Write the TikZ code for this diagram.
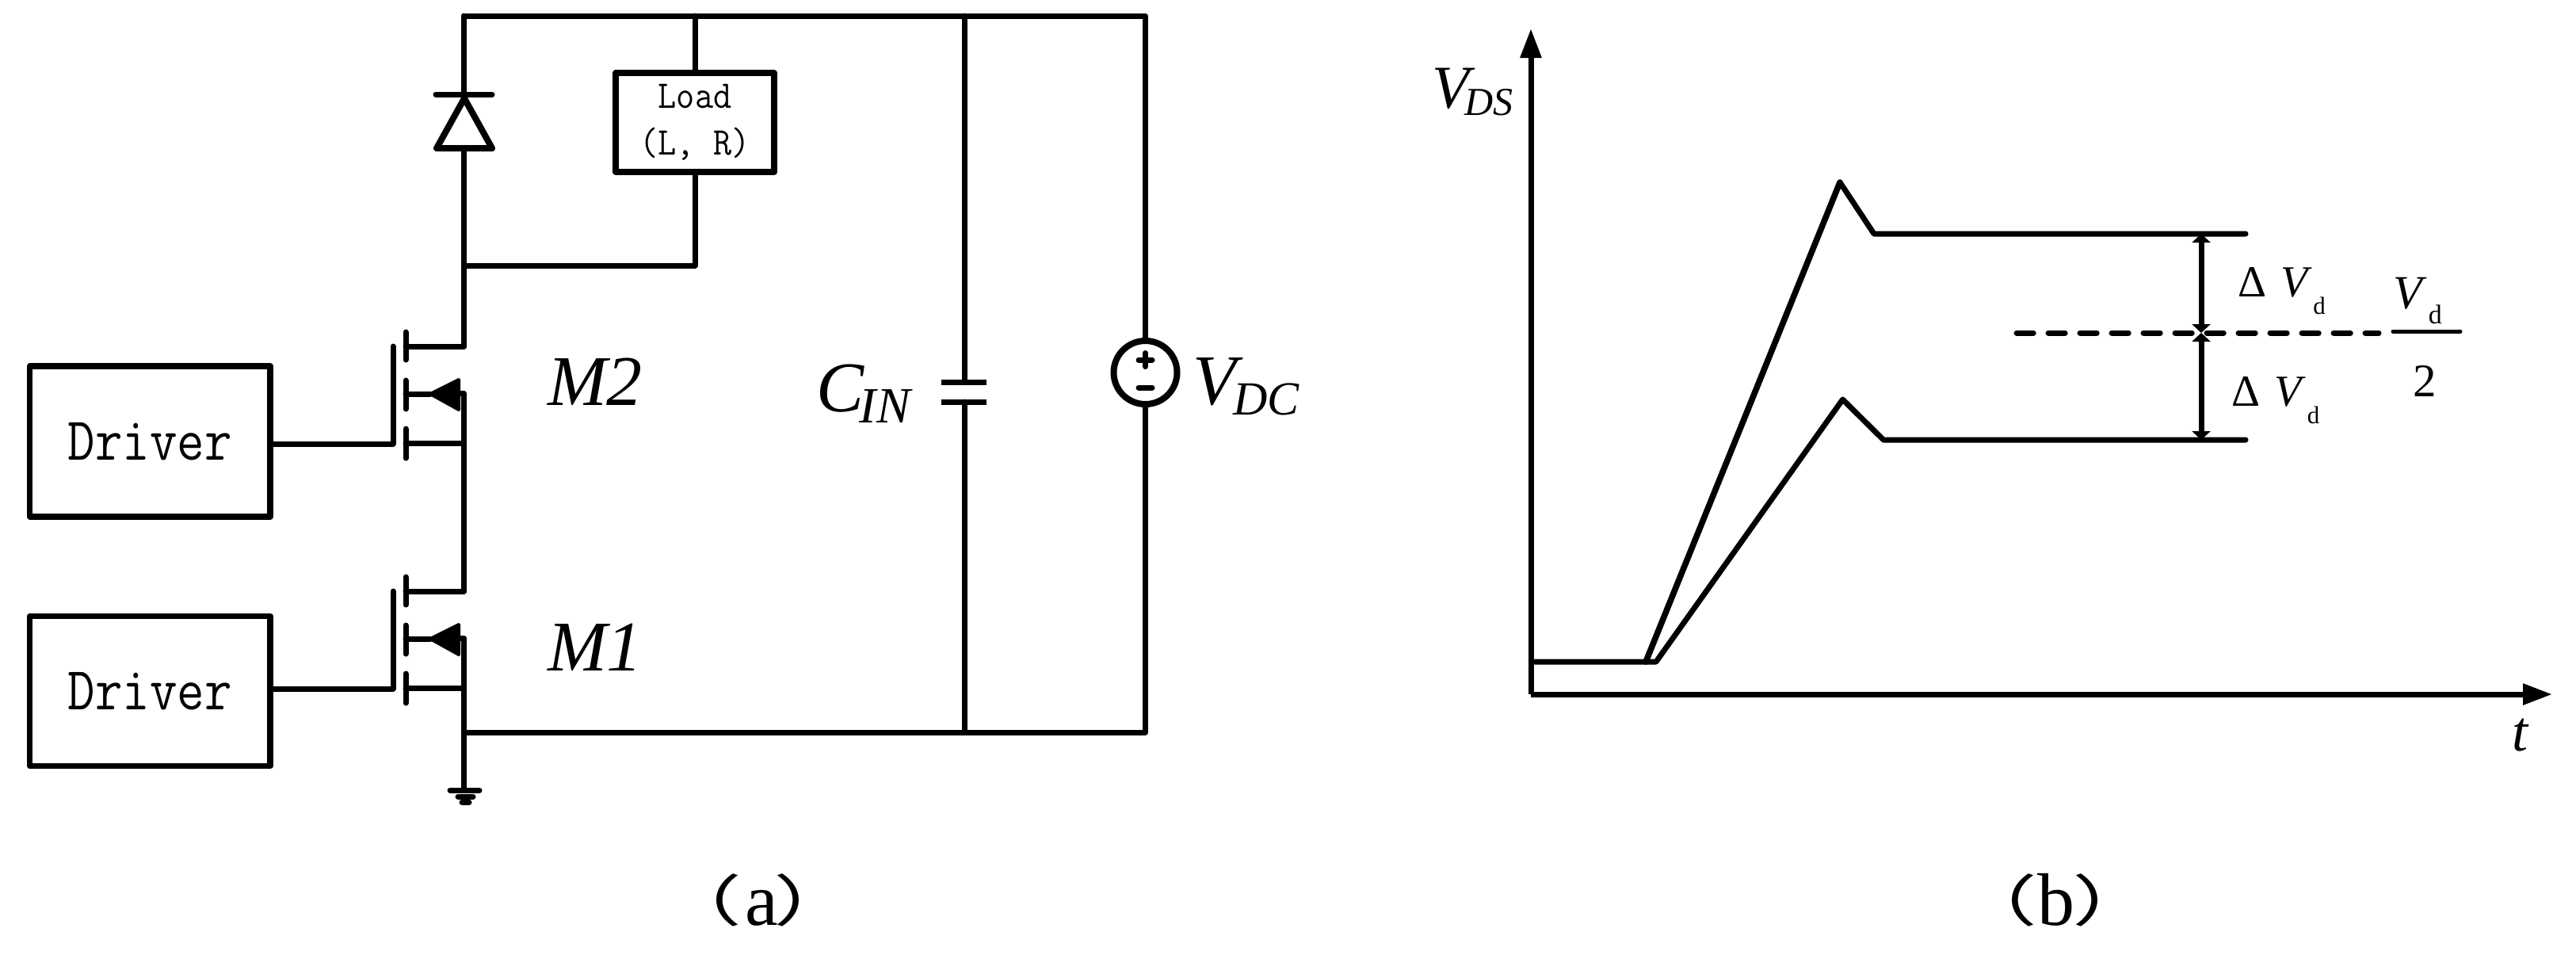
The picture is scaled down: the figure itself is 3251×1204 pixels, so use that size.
\documentclass[tikz,border=0pt]{standalone}
\usepackage{fontspec}
\setmainfont{Liberation Serif}
\setmonofont{Latin Modern Mono}
\newfontfamily\cjk{Noto Sans CJK SC}
\usetikzlibrary{arrows.meta,calc}
\newcommand{\fs}[1]{\fontsize{#1}{#1}\selectfont}
% main size, main text, kern, drop, sub size, sub text
\newcommand{\sublab}[6]{{\fs{#1}\textit{#2}}\kern#3pt\raisebox{-#4pt}{\fs{#5}\textit{#6}}}
\newcommand{\dv}[2]{{\fs{14}Δ\kern4.5pt\textit{V}}\kern0.4pt\raisebox{-5.5pt}{\fs{#1}#2}}
\newcommand{\cparen}[1]{\raisebox{1.25pt}{\scalebox{1.5}[1]{\fs{17.5}\cjk #1}}}
\tikzset{
  wire/.style={line width=1.75pt,line cap=round,line join=round},
  blockbox/.style={draw,line width=1.875pt,rectangle,inner sep=0pt,outer sep=0pt,line join=round},
  lab/.style={inner sep=0pt,outer sep=0pt,anchor=base west},
  capt/.style={inner sep=0pt,outer sep=0pt,anchor=base},
  axisline/.style={line width=1.75pt,-{Triangle[length=9.25pt,width=6.4pt]}},
  span/.style={line width=1.75pt,{Triangle[length=2.75pt,width=5.75pt]}-{Triangle[length=2.75pt,width=5.75pt]}},
  mosfet/.pic={
    \coordinate (-d) at (73.5,0);
    \coordinate (-b) at (73.5,59);
    \coordinate (-s) at (73.5,122);
    \coordinate (-g) at (-16,123);
    \draw[wire] (-16,0) -- (-g);
    \draw[wire] (0,-18) -- (0,17);
    \draw[wire] (0,43) -- (0,79);
    \draw[wire] (0,104) -- (0,141);
    \draw[wire] (0,0) -- (-d);
    \draw[wire] (0,60) -- (31,60);
    \fill[line join=round,draw,line width=1pt] (31,60) -- (67,42) -- (67,80) -- cycle;
    \draw[wire] (67,59) -- (-b) -- (-s);
    \draw[wire] (0,122) -- (-s);
  }
}
\begin{document}
\begin{tikzpicture}[x=0.25pt,y=-0.25pt]
\useasboundingbox (0,0) rectangle (3251,1204);
% --- circuit ---
\node[blockbox,minimum width=75.9pt,minimum height=47.5pt] (drv2) at (189.3,556.8) {\ttfamily\fs{16.75}\scalebox{1}[1.15]{Driver}};
\node[blockbox,minimum width=75.9pt,minimum height=47.25pt] (drv1) at (189.3,872) {\ttfamily\fs{16.75}\scalebox{1}[1.15]{Driver}};
\pic (M2) at (512,437) {mosfet};
\pic (M1) at (512,746) {mosfet};
\draw[wire] (drv2.east |- M2-g) -- (M2-g);
\draw[wire] (drv1.east |- M1-g) -- (M1-g);
\draw[wire] (M2-s) -- (M1-d);
\node[blockbox,line width=2pt,minimum width=50pt,minimum height=31.25pt,align=center,font=\ttfamily\fontsize{11.25}{14.75}\selectfont] (load) at (877,154.5) {\raisebox{-0.6pt}{\scalebox{1}[1.1]{Load}}\\\raisebox{-0.6pt}{\scalebox{1}[1.1]{(L, R)}}};
\node[draw,circle,line width=2pt,inner sep=0pt,outer sep=0pt,minimum size=20pt] (vdc) at (1445.5,470) {};
\coordinate (tl) at (585.5,20);
\coordinate (tr) at (vdc |- tl);
\coordinate (lt) at (load |- tl);
\coordinate (bus) at (585.5,924);
\coordinate (busr) at (vdc |- bus);
\coordinate (ltie) at (585.5,335);
\coordinate (dk) at (585.5,119);
\coordinate (da) at (585.5,187);
\coordinate (capa) at (1217,482);
\coordinate (capb) at (1217,507);
\coordinate (gnd) at (585.5,997);
% diode
\draw[wire] (550,119) -- (621,119);
\draw[wire,line width=2pt] (586,124) -- (551,187) -- (621,187) -- cycle;
\draw[wire] (tl) -- (dk);
\draw[wire] (da) -- (M2-d);
\draw[wire] (ltie) -| (load.south);
\draw[wire] (lt) -- (load.north);
\draw[wire] (tl) -- (tr) -- (vdc.north);
\draw[wire] (vdc.south) -- (busr) -- (bus);
\draw[wire] (M1-s) -- (gnd);
\draw[wire] (M1-s |- bus) -- (bus);
% capacitor
\draw[line width=1.75pt] (1188,482) -- (1245,482);
\draw[line width=1.75pt] (1188,507) -- (1245,507);
\draw[wire] (capa |- tl) -- (capa);
\draw[wire] (capb) -- (capb |- bus);
% source signs
\draw[wire] (1437,454) -- (1454,454);
\draw[wire] (1445.5,445.5) -- (1445.5,462.5);
\draw[wire] (1437,489) -- (1454,489);
% ground
\draw[wire] (568,997) -- (605,997);
\draw[wire] (578,1005) -- (597,1005);
\draw[wire] (583,1012) -- (592,1012);
% labels
\node[lab] (m2lab) at (691,511) {\fs{22.5}\textit{M2}};
\node[lab] (m1lab) at (691,846) {\fs{22.5}\textit{M1}};
\node[lab] (cin) at (1030,519) {\sublab{22.5}{C}{-1.5}{3.5}{16}{IN}};
\node[lab] (vdclab) at (1505,510) {\sublab{22.5}{V}{-3}{3.25}{15}{DC}};
% --- waveform ---
\coordinate (org) at (1932,876);
\coordinate (ytip) at (1932,36);
\coordinate (xtip) at (3221,876);
\draw[axisline] (org) -- (ytip);
\draw[axisline] (org) -- (xtip);
\node[lab] (vds) at (1807,136) {\sublab{19.25}{V}{-3.25}{2.25}{12.5}{DS}};
\node[lab] (tlab) at (3170,947) {\fs{18}\textit{t}};
\coordinate (w0) at (1937,835);
\coordinate (w1) at (2090,835);
\coordinate (up0) at (2077,835);
\coordinate (up1) at (2322,230);
\coordinate (up2) at (2365,295);
\coordinate (upe) at (2834,295);
\coordinate (lo1) at (2325.5,504);
\coordinate (lo2) at (2377,555);
\coordinate (loe) at (2834,555);
\coordinate (mid) at (2778,420);
\draw[wire] (w0) -- (w1) -- (lo1) -- (lo2) -- (loe);
\draw[wire,line width=1.9pt] (up0) -- (up1);
\draw[wire] (up1) -- (up2) -- (upe);
\draw[line width=1.75pt,line cap=round,dash pattern=on 5.3pt off 4.7pt] (2545,420) -- (3002,420);
\draw[span] (mid |- upe) -- (mid);
\draw[span] (mid) -- (mid |- loe);
\node[lab] (dv1) at (2824,374) {\dv{7.75}{d}};
\node[lab] (dv2) at (2816.5,512) {\dv{7.75}{d}};
\node[lab] (vfrac) at (3020,389) {{\fs{15}\textit{V}}\kern0.6pt\raisebox{-4.75pt}{\fs{8.5}d}};
\coordinate (fl) at (3020,418);
\coordinate (fr) at (3105,418);
\draw[line width=1.25pt,line cap=round] (fl) -- (fr);
\node[lab] (two) at (3045,500) {\fs{14.75}2};
% captions
\node[capt] (capa1) at (956.5,1167) {\cparen{（}\kern1pt{\fs{23.5}a}\kern-1.25pt\cparen{）}};
\node[capt] (capb1) at (2593,1167) {\cparen{（}\kern0pt{\fs{23.5}b}\kern-0.75pt\cparen{）}};
\end{tikzpicture}
\end{document}
